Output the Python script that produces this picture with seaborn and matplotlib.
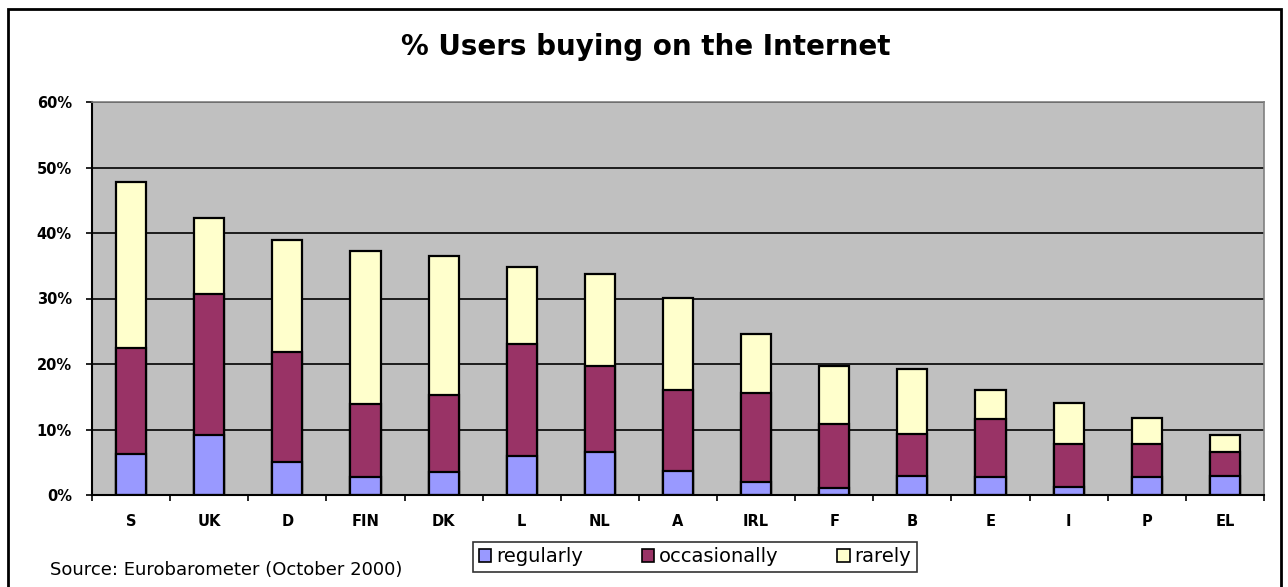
import matplotlib
matplotlib.use("Agg")
import matplotlib.pyplot as plt
import seaborn as sns
import pandas as pd
import numpy as np
from matplotlib.patches import Patch, Rectangle
from matplotlib.ticker import FuncFormatter, FixedLocator

countries = ['S', 'UK', 'D', 'FIN', 'DK', 'L', 'NL', 'A', 'IRL', 'F', 'B', 'E', 'I', 'P', 'EL']
regularly = [6.3, 9.1, 5.0, 2.7, 3.5, 6.0, 6.6, 3.6, 2.0, 1.1, 2.9, 2.7, 1.2, 2.7, 2.9]
occasionally = [16.2, 21.6, 16.9, 11.2, 11.7, 17.1, 13.1, 12.5, 13.5, 9.8, 6.4, 8.9, 6.6, 5.1, 3.7]
rarely = [25.3, 11.6, 17.1, 23.3, 21.3, 11.7, 14.1, 14.0, 9.1, 8.8, 9.9, 4.5, 6.2, 4.0, 2.5]
series_names = ['regularly', 'occasionally', 'rarely']
y_ticks = [0, 10, 20, 30, 40, 50, 60]

colors = {'regularly': '#9999FF', 'occasionally': '#993366', 'rarely': '#FFFFCC'}

df = pd.DataFrame({'country': countries, 'regularly': regularly,
                   'occasionally': occasionally, 'rarely': rarely})
df['cum_reg'] = df['regularly']
df['cum_occ'] = df['regularly'] + df['occasionally']
df['cum_rar'] = df['cum_occ'] + df['rarely']

sns.set_theme(style='white')
plt.rcParams['font.family'] = ['DejaVu Sans']
plt.rcParams['text.color'] = 'black'
plt.rcParams['xtick.labelcolor'] = 'black'
plt.rcParams['ytick.labelcolor'] = 'black'

fig = plt.figure(figsize=(12.88, 5.87), dpi=100)
ax = fig.add_axes([92/1288, (587-495)/587, (1264-92)/1288, (495-102)/587])
ax.set_facecolor('#C0C0C0')

for col, name in [('cum_rar', 'rarely'), ('cum_occ', 'occasionally'), ('cum_reg', 'regularly')]:
    sns.barplot(data=df, x='country', y=col, color=colors[name], saturation=1,
                width=0.385, edgecolor='black', linewidth=1.6, errorbar=None, ax=ax,
                order=countries)

ax.set_ylim(0, 60)
ax.set_xlim(-0.5, len(countries) - 0.5)
ax.set_yticks(y_ticks)
ax.yaxis.set_major_formatter(FuncFormatter(lambda v, p: f"{v:.0f}%"))
ax.set_xlabel('')
ax.set_ylabel('')
ax.set_axisbelow(True)
ax.yaxis.grid(True, color='black', linewidth=1.2)
ax.xaxis.grid(False)

ax.tick_params(axis='y', which='major', left=True, length=4.5, width=1.2, color='black',
               pad=10, labelsize=10.5, direction='out', labelcolor='black')
ax.tick_params(axis='x', which='major', bottom=False, length=0, pad=14, labelsize=10.5,
               labelcolor='black')
ax.xaxis.set_minor_locator(FixedLocator(np.arange(-0.5, len(countries), 1.0)))
ax.tick_params(axis='x', which='minor', bottom=True, length=4, width=1.2, color='black',
               direction='out')
for lab in ax.get_xticklabels() + ax.get_yticklabels():
    lab.set_fontweight('bold')

for s in ['left', 'bottom']:
    ax.spines[s].set_color('black')
    ax.spines[s].set_linewidth(1.5)
for s in ['top', 'right']:
    ax.spines[s].set_color('#808080')
    ax.spines[s].set_linewidth(1.2)

fig.text(646/1288, 1 - 47/587, '% Users buying on the Internet', ha='center', va='center',
         fontsize=20, fontweight='bold', color='black')

fig.text(50/1288, 1 - 570/587, 'Source: Eurobarometer (October 2000)', ha='left', va='center',
         fontsize=13, color='black')

handles = [Patch(facecolor=colors[n], edgecolor='black', linewidth=1.2) for n in series_names]
leg = fig.legend(handles, series_names, loc='center', bbox_to_anchor=(695/1288, 1 - 557/587),
                 ncol=3, frameon=True, fontsize=14, handlelength=0.65, handleheight=0.65,
                 handletextpad=0.25, columnspacing=3.0, borderpad=0.3, fancybox=False)
leg.get_frame().set_edgecolor('black')
leg.get_frame().set_linewidth(1.2)
for t in leg.get_texts():
    t.set_color('black')

fig.patches.append(Rectangle((8/1288, -0.05), (1281-8)/1288, 1.05 - 9/587,
                             transform=fig.transFigure, fill=False, edgecolor='black',
                             linewidth=2))

fig.savefig('out.png', dpi=100)
